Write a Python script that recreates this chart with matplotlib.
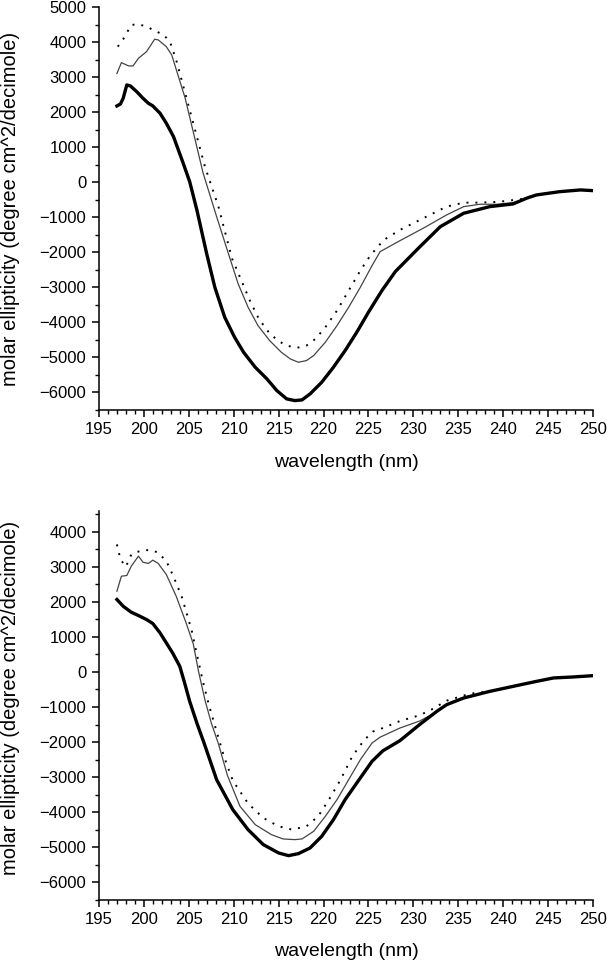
import matplotlib
matplotlib.use("Agg")
import matplotlib.pyplot as plt
from matplotlib.ticker import MultipleLocator

plt.rcParams['font.family'] = ['Liberation Sans', 'DejaVu Sans']

# ---- panel 1 (top) ----
wl_a_thick = [197.0, 197.4, 197.7, 198.1, 198.5, 199.2, 199.9, 200.5, 201.0, 201.8, 202.5, 203.3,
              204.3, 205.1, 205.9, 207.0, 207.9, 209.0, 210.1, 211.1, 212.4, 213.7, 214.8, 215.9,
              216.8, 217.6, 218.5, 219.8, 221.1, 222.4, 223.7, 225.0, 226.5, 228.0, 230.7, 233.0,
              235.6, 238.5, 241.1, 242.6, 243.7, 246.3, 248.6, 250.0]
cd_a_thick = [2180, 2237, 2400, 2780, 2751, 2589, 2400, 2257, 2180, 1971, 1686, 1303,
              600, 17, -791, -2050, -3000, -3857, -4429, -4857, -5286, -5619, -5952, -6190,
              -6238, -6219, -6048, -5714, -5286, -4810, -4286, -3714, -3095, -2550, -1850, -1269,
              -886, -697, -620, -457, -363, -269, -220, -240]

wl_a_thin = [197.0, 197.5, 198.3, 198.8, 199.4, 200.3, 201.2, 201.6, 202.5, 203.1, 204.6, 206.6,
             208.1, 209.4, 210.5, 211.6, 212.7, 214.0, 215.3, 216.3, 217.2, 218.1, 218.9, 220.2,
             221.5, 222.8, 224.1, 225.4, 226.3, 228.5, 231.1, 233.7, 235.6, 237.4, 239.3, 241.1,
             242.6, 243.7, 246.3, 248.6, 250.0]
cd_a_thin = [3106, 3417, 3323, 3323, 3543, 3731, 4086, 4066, 3874, 3637, 2400, 257,
             -983, -2029, -2905, -3571, -4095, -4524, -4857, -5048, -5143, -5095, -4952, -4571,
             -4095, -3571, -3000, -2381, -1983, -1670, -1314, -934, -697, -629, -629, -583,
             -457, -363, -269, -220, -240]

wl_a_dot = [197.1, 197.7, 198.6, 199.4, 200.3, 201.2, 202.2, 202.9, 203.6, 204.8, 206.8, 208.3,
            209.8, 210.7, 211.8, 212.8, 213.9, 214.9, 215.9, 217.0, 218.1, 219.1, 220.2, 221.5,
            222.8, 224.1, 225.2, 226.7, 228.5, 231.1, 233.7, 235.6, 237.4, 239.5, 241.9, 243.7,
            246.3, 248.6, 250.0]
cd_a_dot = [3874, 4086, 4494, 4514, 4446, 4331, 4209, 4017, 3494, 2351, 446, -697,
            -2171, -2714, -3381, -3905, -4286, -4524, -4667, -4733, -4667, -4476, -4143, -3667,
            -3095, -2524, -2095, -1649, -1363, -1029, -697, -583, -583, -560, -486, -363,
            -269, -220, -240]

# ---- panel 2 (bottom) ----
wl_b_thick = [197.0, 197.7, 198.6, 199.4, 200.3, 201.0, 201.8, 202.5, 203.2, 204.0, 204.5, 205.1,
              205.9, 206.7, 208.1, 209.9, 211.6, 213.3, 215.0, 216.1, 217.2, 218.5, 219.8, 221.1,
              222.4, 223.7, 225.4, 226.6, 228.5, 230.7, 232.6, 233.7, 235.6, 238.5, 241.1, 243.7,
              245.6, 247.8, 250.0]
cd_b_thick = [2066, 1874, 1703, 1609, 1494, 1380, 1114, 829, 543, 160, -280, -838,
              -1457, -2027, -3072, -3928, -4498, -4926, -5163, -5240, -5183, -5021, -4688, -4213,
              -3643, -3167, -2549, -2250, -1960, -1500, -1126, -934, -743, -554, -411, -269,
              -171, -143, -106]

wl_b_thin = [197.0, 197.5, 198.1, 198.6, 199.4, 199.9, 200.5, 201.0, 201.6, 202.5, 203.6, 204.7,
             205.5, 206.1, 206.8, 207.5, 208.3, 209.3, 210.7, 212.4, 214.2, 215.5, 216.8, 217.6,
             218.9, 220.2, 221.5, 222.8, 224.1, 225.4, 226.3, 228.5, 230.7, 232.3, 233.7, 235.6,
             238.5, 241.1, 243.7, 245.6, 247.8, 250.0]
cd_b_thin = [2303, 2731, 2751, 3017, 3303, 3131, 3094, 3189, 3094, 2780, 2160, 1400,
             800, 0, -800, -1450, -2050, -2950, -3833, -4356, -4641, -4764, -4783, -4764,
             -4546, -4118, -3643, -3072, -2502, -2027, -1860, -1600, -1400, -1180, -934, -743,
             -554, -411, -269, -171, -143, -106]

wl_b_dot = [197.0, 197.4, 198.0, 198.6, 199.2, 199.9, 200.9, 201.6, 202.5, 203.2, 204.2, 205.3,
            205.9, 206.6, 207.3, 208.1, 208.9, 209.9, 211.6, 213.3, 215.0, 216.5, 218.1, 219.4,
            220.6, 221.9, 223.2, 224.5, 225.5, 226.6, 228.5, 230.5, 231.7, 233.7, 236.3, 238.5,
            241.1, 243.7, 245.6, 247.8, 250.0]
cd_b_dot = [3637, 3209, 3000, 3351, 3417, 3474, 3474, 3400, 3160, 2780, 2160, 1209,
            500, -300, -1000, -1700, -2400, -3100, -3750, -4166, -4403, -4498, -4403, -4118,
            -3643, -3072, -2407, -1950, -1700, -1600, -1400, -1250, -1120, -820, -620, -554,
            -411, -269, -171, -143, -106]

xticks = [195, 200, 205, 210, 215, 220, 225, 230, 235, 240, 245, 250]
ylab = "molar ellipticity (degree cm^2/decimole)"
xlab = "wavelength (nm)"

fig = plt.figure(figsize=(6.07, 9.63), dpi=100)
ax1 = fig.add_axes([0.163, 0.5745, 0.814, 0.418])
ax2 = fig.add_axes([0.163, 0.0656, 0.814, 0.4041])

panels = [
    (ax1, wl_a_thick, cd_a_thick, wl_a_thin, cd_a_thin, wl_a_dot, cd_a_dot, 5000),
    (ax2, wl_b_thick, cd_b_thick, wl_b_thin, cd_b_thin, wl_b_dot, cd_b_dot, 4600),
]

for ax, xk, yk, xt, yt, xd, yd, ytop in panels:
    ax.plot(xd, yd, color="black", lw=1.4, linestyle=(0, (1, 3.6)))
    ax.plot(xt, yt, color="#444444", lw=0.9)
    ax.plot(xk, yk, color="black", lw=2.4)
    ax.set_xlim(195, 250)
    ax.set_ylim(-6500, ytop)
    ax.set_xticks(xticks)
    ax.xaxis.set_minor_locator(MultipleLocator(1))
    ax.yaxis.set_major_locator(MultipleLocator(1000))
    ax.yaxis.set_minor_locator(MultipleLocator(500))
    for s in ["top", "right"]:
        ax.spines[s].set_visible(False)
    for s in ["left", "bottom"]:
        ax.spines[s].set_linewidth(1.1)
    ax.tick_params(which="major", direction="out", length=5, width=1.1, labelsize=12, pad=4)
    ax.tick_params(which="minor", direction="out", length=3, width=1.0)
    ax.set_ylabel(ylab, fontsize=14.5)
    ax.set_xlabel(xlab, fontsize=14)
    ax.yaxis.set_label_coords(-0.16, 0.5 if ytop == 5000 else 0.52)
    ax.xaxis.set_label_coords(0.5, -0.11)

fig.savefig("out.png", dpi=100)
